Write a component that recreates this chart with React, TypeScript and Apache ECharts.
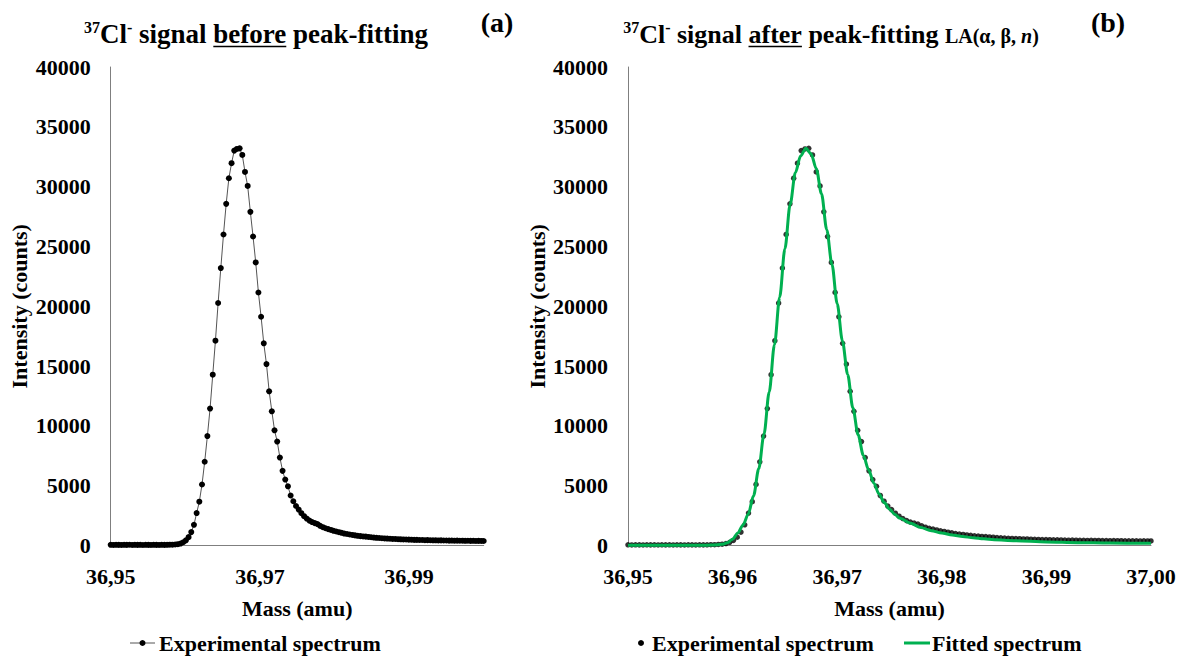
import React, { useEffect, useRef } from "react";
import * as echarts from "echarts";

const FONT = "'Liberation Serif', 'Times New Roman', serif";

// Experimental spectrum: mass (amu) and intensity (counts)
const MASS = [
  36.95, 36.95036, 36.95072, 36.95108, 36.95144, 36.9518, 36.95216, 36.95252, 36.95288, 36.95324,
  36.9536, 36.95396, 36.95432, 36.95468, 36.95504, 36.9554, 36.95576, 36.95612, 36.95648, 36.95684,
  36.9572, 36.95756, 36.95792, 36.95828, 36.95864, 36.959, 36.95936, 36.95972, 36.96008, 36.96044,
  36.9608, 36.96116, 36.96152, 36.96188, 36.96224, 36.9626, 36.96296, 36.96332, 36.96368, 36.96404,
  36.9644, 36.96476, 36.96512, 36.96548, 36.96584, 36.9662, 36.96656, 36.96692, 36.96728, 36.96764,
  36.968, 36.96836, 36.96872, 36.96908, 36.96944, 36.9698, 36.97016, 36.97052, 36.97088, 36.97124,
  36.9716, 36.97196, 36.97232, 36.97268, 36.97304, 36.9734, 36.97376, 36.97412, 36.97448, 36.97484,
  36.9752, 36.97556, 36.97592, 36.97628, 36.97664, 36.977, 36.97736, 36.97772, 36.97808, 36.97844,
  36.9788, 36.97916, 36.97952, 36.97988, 36.98024, 36.9806, 36.98096, 36.98132, 36.98168, 36.98204,
  36.9824, 36.98276, 36.98312, 36.98348, 36.98384, 36.9842, 36.98456, 36.98492, 36.98528, 36.98564,
  36.986, 36.98636, 36.98672, 36.98708, 36.98744, 36.9878, 36.98816, 36.98852, 36.98888, 36.98924,
  36.9896, 36.98996, 36.99032, 36.99068, 36.99104, 36.9914, 36.99176, 36.99212, 36.99248, 36.99284,
  36.9932, 36.99356, 36.99392, 36.99428, 36.99464, 36.995, 36.99536, 36.99572, 36.99608, 36.99644,
  36.9968, 36.99716, 36.99752, 36.99788, 36.99824, 36.9986, 36.99896, 36.99932, 36.99968, 37.0,
];
const INTENSITY = [
  55, 48, 60, 52, 45, 58, 50, 62, 47, 55,
  50, 58, 44, 60, 52, 49, 57, 51, 46, 60,
  54, 58, 65, 70, 85, 110, 160, 270, 430, 700,
  1120, 1730, 2710, 3660, 5100, 7000, 9150, 11450, 14280, 17120,
  20270, 23190, 26000, 28560, 30700, 31960, 33010, 33150, 33200, 32650,
  31230, 30060, 27890, 25830, 23660, 21150, 19120, 16900, 15170, 12890,
  11220, 9630, 8690, 7350, 6240, 5510, 4950, 4180, 3700, 3300,
  3000, 2700, 2450, 2250, 2080, 1960, 1870, 1790, 1640, 1530,
  1440, 1370, 1300, 1230, 1170, 1110, 1060, 1000, 960, 920,
  880, 845, 810, 785, 760, 740, 715, 690, 665, 645,
  625, 605, 590, 580, 565, 550, 545, 530, 520, 505,
  500, 490, 485, 470, 468, 460, 458, 445, 448, 440,
  432, 436, 425, 428, 418, 420, 410, 413, 402, 406,
  398, 400, 392, 396, 388, 390, 384, 386, 380, 378,
];

// Fitted spectrum LA(alpha, beta, n)
const FIT_MASS = [
  36.95, 36.952, 36.954, 36.956, 36.957, 36.958, 36.9585, 36.959, 36.9595, 36.96,
  36.9605, 36.961, 36.9615, 36.962, 36.9625, 36.963, 36.9635, 36.964, 36.9645, 36.965,
  36.9655, 36.966, 36.9665, 36.967, 36.9675, 36.968, 36.9685, 36.969, 36.9695, 36.97,
  36.9705, 36.971, 36.9715, 36.972, 36.9725, 36.973, 36.9735, 36.974, 36.9745, 36.975,
  36.9755, 36.976, 36.977, 36.978, 36.979, 36.98, 36.981, 36.982, 36.983, 36.984,
  36.985, 36.987, 36.99, 36.993, 36.996, 37.0,
];
const FIT_INTENSITY = [
  15, 15, 16, 18, 22, 35, 55, 95, 230, 530,
  1050, 1720, 2640, 4150, 6410, 9300, 12840, 16780, 20750, 24800,
  28500, 31170, 32550, 33200, 32750, 31500, 29400, 26400, 23500, 20200,
  17100, 14300, 11500, 9250, 7530, 6340, 5210, 4300, 3590, 3040,
  2620, 2270, 1870, 1500, 1240, 1040, 880, 750, 650, 560,
  480, 400, 300, 240, 205, 180,
];

const Y_TICKS = [0, 5000, 10000, 15000, 20000, 25000, 30000, 35000, 40000];
const SERIES_NAMES = ["Experimental spectrum", "Fitted spectrum"];

type Piece = { t: string; size: number; sup?: boolean; underline?: boolean; italic?: boolean };

let measureCtx: CanvasRenderingContext2D | null = null;
function measure(text: string, size: number, italic = false): number {
  if (!measureCtx) measureCtx = document.createElement("canvas").getContext("2d");
  if (!measureCtx) return text.length * size * 0.5;
  measureCtx.font = `${italic ? "italic " : ""}bold ${size}px "Liberation Serif"`;
  return measureCtx.measureText(text).width;
}

function textEl(text: string, x: number, y: number, size: number, opts: any = {}) {
  return {
    type: "text",
    x,
    y,
    silent: true,
    style: {
      text,
      fill: "#000",
      font: `${opts.italic ? "italic " : ""}bold ${size}px ${FONT}`,
      align: opts.align || "left",
      verticalAlign: "middle",
      textAlign: opts.align || "left",
      textVerticalAlign: "middle",
    },
  };
}

function titleEls(pieces: Piece[], centerX: number, baseline: number) {
  const widths = pieces.map((p) => measure(p.t, p.size, p.italic));
  const total = widths.reduce((a, b) => a + b, 0);
  let x = centerX - total / 2;
  const els: any[] = [];
  pieces.forEach((p, i) => {
    const base = p.sup ? baseline - 10 : baseline;
    if (p.t.trim() !== "") {
      els.push(textEl(p.t, x, base - 0.3375 * p.size, p.size, { italic: p.italic }));
    }
    if (p.underline) {
      els.push({
        type: "line",
        silent: true,
        shape: { x1: x, y1: baseline + 3.5, x2: x + widths[i], y2: baseline + 3.5 },
        style: { stroke: "#000", lineWidth: 1.6 },
      });
    }
    x += widths[i];
  });
  return els;
}

export default function App() {
  const ref = useRef<HTMLDivElement>(null);

  useEffect(() => {
    if (!ref.current) return;
    const chart = echarts.init(ref.current, undefined, { renderer: "svg" });

    const expData = MASS.map((m, i) => [m, INTENSITY[i]]);
    const fitData = FIT_MASS.map((m, i) => [m, FIT_INTENSITY[i]]);

    const labelStyle = { fontSize: 22, fontWeight: "bold", color: "#000", fontFamily: FONT };
    const axisLineStyle = { color: "#7f7f7f", width: 1 };
    const fmtMass = (v: number) => (Math.round(v * 100) / 100).toFixed(2).replace(".", ",");

    const makeX = (gridIndex: number, every2: boolean) => ({
      gridIndex,
      type: "value",
      min: 36.95,
      max: 37.0,
      interval: 0.01,
      axisLine: { show: true, lineStyle: axisLineStyle },
      axisTick: { show: false },
      splitLine: { show: false },
      axisLabel: {
        ...labelStyle,
        margin: 20,
        formatter: (v: number) => {
          const k = Math.round(v * 100);
          if (every2 && k % 2 === 0) return "";
          return fmtMass(v);
        },
      },
      name: "Mass (amu)",
      nameLocation: "middle",
      nameGap: 52,
      nameTextStyle: { ...labelStyle },
    });

    const makeY = (gridIndex: number) => ({
      gridIndex,
      type: "value",
      min: Y_TICKS[0],
      max: Y_TICKS[Y_TICKS.length - 1],
      interval: Y_TICKS[1] - Y_TICKS[0],
      axisLine: { show: true, lineStyle: axisLineStyle },
      axisTick: { show: false },
      splitLine: { show: false },
      axisLabel: { ...labelStyle, margin: 20, formatter: (v: number) => String(v) },
      name: "Intensity (counts)",
      nameLocation: "middle",
      nameGap: 80,
      nameRotate: 90,
      nameTextStyle: { ...labelStyle },
    });

    const legendY = 643;
    const graphics: any[] = [
      ...titleEls(
        [
          { t: "37", size: 16, sup: true },
          { t: "Cl", size: 27 },
          { t: "-", size: 16, sup: true },
          { t: " ", size: 27 },
          { t: "signal", size: 27 },
          { t: " ", size: 27 },
          { t: "before", size: 27, underline: true },
          { t: " ", size: 27 },
          { t: "peak-fitting", size: 27 },
        ],
        256,
        43
      ),
      ...titleEls(
        [
          { t: "37", size: 16, sup: true },
          { t: "Cl", size: 26 },
          { t: "-", size: 16, sup: true },
          { t: " ", size: 26 },
          { t: "signal", size: 26 },
          { t: " ", size: 26 },
          { t: "after", size: 26, underline: true },
          { t: " ", size: 26 },
          { t: "peak-fitting", size: 26 },
          { t: " ", size: 26 },
          { t: "LA(α, β, ", size: 20 },
          { t: "n", size: 20, italic: true },
          { t: ")", size: 20 },
        ],
        831,
        43
      ),
      textEl("(a)", 497, 22, 28, { align: "center" }),
      textEl("(b)", 1108, 22, 28, { align: "center" }),
      // legend (a)
      { type: "line", silent: true, shape: { x1: 130, y1: legendY, x2: 155, y2: legendY }, style: { stroke: "#555", lineWidth: 1 } },
      { type: "circle", silent: true, shape: { cx: 142.5, cy: legendY, r: 3 }, style: { fill: "#000" } },
      textEl(SERIES_NAMES[0], 159, legendY, 22),
      // legend (b)
      { type: "circle", silent: true, shape: { cx: 641, cy: legendY, r: 3 }, style: { fill: "#000" } },
      textEl(SERIES_NAMES[0], 652, legendY, 22),
      { type: "line", silent: true, shape: { x1: 904, y1: legendY, x2: 930, y2: legendY }, style: { stroke: "#00B050", lineWidth: 3 } },
      textEl(SERIES_NAMES[1], 932, legendY, 22),
    ];

    chart.setOption({
      animation: false,
      backgroundColor: "#ffffff",
      textStyle: { fontFamily: FONT },
      grid: [
        { left: 110.7, top: 67, width: 373, height: 478.5 },
        { left: 628, top: 67, width: 523, height: 478.5 },
      ],
      xAxis: [makeX(0, true), makeX(1, false)],
      yAxis: [makeY(0), makeY(1)],
      series: [
        {
          name: SERIES_NAMES[0],
          type: "line",
          xAxisIndex: 0,
          yAxisIndex: 0,
          data: expData,
          symbol: "circle",
          symbolSize: 6,
          showSymbol: true,
          itemStyle: { color: "#000" },
          lineStyle: { color: "#555", width: 1 },
          z: 3,
        },
        {
          name: SERIES_NAMES[0],
          type: "scatter",
          xAxisIndex: 1,
          yAxisIndex: 1,
          data: expData,
          symbol: "circle",
          symbolSize: 5.5,
          itemStyle: { color: "#000" },
          z: 2,
        },
        {
          name: SERIES_NAMES[1],
          type: "line",
          xAxisIndex: 1,
          yAxisIndex: 1,
          data: fitData,
          symbol: "none",
          smooth: 0.3,
          smoothMonotone: "x",
          lineStyle: { color: "#00B050", width: 3 },
          itemStyle: { color: "#00B050" },
          z: 4,
        },
      ],
      graphic: graphics,
    });

    return () => {
      chart.dispose();
    };
  }, []);

  return (
    <div
      ref={ref}
      style={{ position: "fixed", left: 0, top: 0, width: 1188, height: 659, background: "#fff" }}
    />
  );
}
